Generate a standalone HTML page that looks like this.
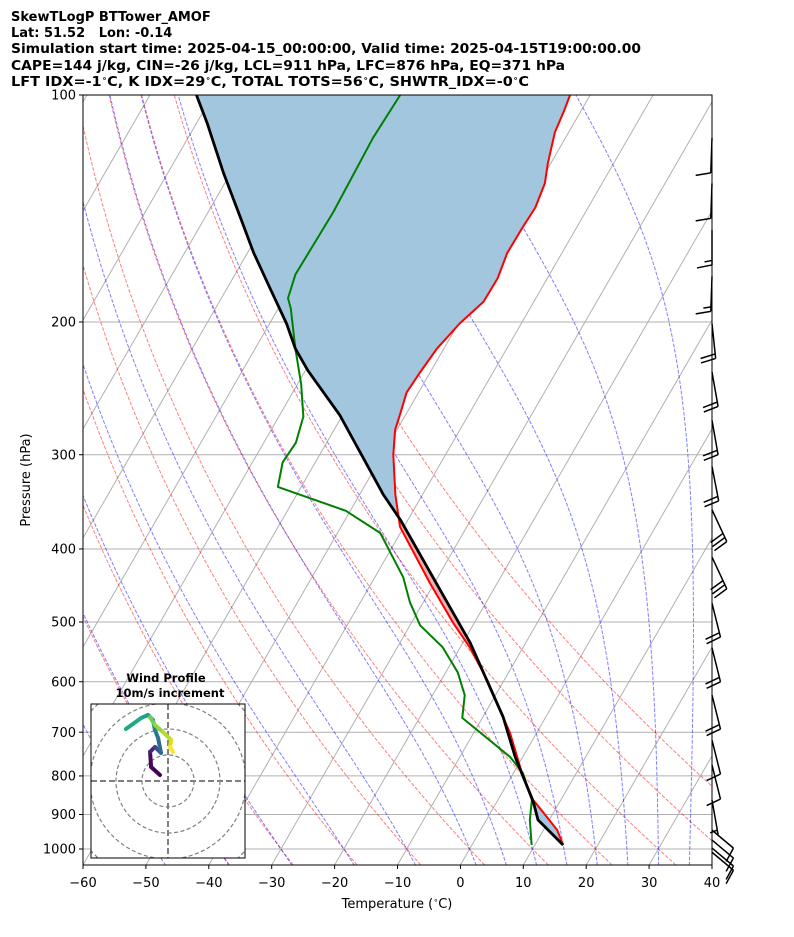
<!DOCTYPE html>
<html><head><meta charset="utf-8"><style>
html,body{margin:0;padding:0;background:#fff;}
svg{display:block;font-family:"DejaVu Sans","Liberation Sans",sans-serif;}
</style></head><body>
<svg id="chart" width="794" height="937" viewBox="0 0 794 937" xmlns="http://www.w3.org/2000/svg">
<defs><clipPath id="plotclip"><rect x="83" y="95" width="629" height="770"/></clipPath>
<clipPath id="hodoclip"><rect x="91" y="704" width="154" height="154"/></clipPath></defs>
<rect x="0" y="0" width="794" height="937" fill="#fff"/>
<g font-weight="bold" font-size="13" fill="#000">
<text x="11" y="21">SkewTLogP BTTower_AMOF</text>
<text x="11" y="37" xml:space="preserve">Lat: 51.52   Lon: -0.14</text>
<text x="11" y="53" textLength="630" lengthAdjust="spacingAndGlyphs">Simulation start time: 2025-04-15_00:00:00, Valid time: 2025-04-15T19:00:00.00</text>
<text x="11" y="70" textLength="554" lengthAdjust="spacingAndGlyphs">CAPE=144 j/kg, CIN=-26 j/kg, LCL=911 hPa, LFC=876 hPa, EQ=371 hPa</text>
<text x="11" y="86" textLength="518" lengthAdjust="spacingAndGlyphs">LFT IDX=-1<tspan font-size="8" dy="-5">∘</tspan><tspan dy="5">C, K IDX=29</tspan><tspan font-size="8" dy="-5">∘</tspan><tspan dy="5">C, TOTAL TOTS=56</tspan><tspan font-size="8" dy="-5">∘</tspan><tspan dy="5">C, SHWTR_IDX=-0</tspan><tspan font-size="8" dy="-5">∘</tspan><tspan dy="5">C</tspan></text>
</g>
<g id="plot" clip-path="url(#plotclip)"></g>
<rect x="83" y="95" width="629" height="770" fill="none" stroke="#000" stroke-width="1"/>
<g id="axes"></g>
<g id="barbs"></g>
<g id="hodo"></g>
<text x="397" y="908" text-anchor="middle" font-size="13">Temperature (<tspan font-size="8" dy="-5">∘</tspan><tspan dy="5">C)</tspan></text>
<text transform="translate(30,480) rotate(-90)" text-anchor="middle" font-size="13">Pressure (hPa)</text>
</svg>
<script>
// ---- data ----
const tempP = [988,944,874,861,793,702,668,597,540,501,444,374,339,300,278,264,248,233,217,201,188,175,162,150,141,131,123,112,105,100];
const tempT = [14.5,12.2,6.7,5.6,1.35,-4.2,-6.8,-12.7,-18.5,-23.4,-30.7,-40.6,-44.3,-48.3,-50.3,-51.0,-51.9,-51.6,-51.1,-49.8,-48.0,-47.9,-48.7,-48.6,-48.4,-49.1,-50.5,-52.2,-52.7,-53.2];
const dewP = [988,915,861,793,755,670,625,583,540,505,471,436,381,356,331,307,289,267,242,217,192,186,173,143,114,100];
const dewT = [9.5,6.9,5.4,1.5,-2.0,-13.2,-14.9,-18.1,-22.8,-28.4,-32.1,-35.5,-43.2,-50.7,-63.7,-65.2,-64.9,-66.1,-69.4,-73.6,-78.0,-79.4,-80.4,-80.1,-80.6,-80.2];
const parcelP = [988,915,866,755,668,533,453,366,339,266,232,217,201,181,162,145,127,109,100];
const parcelT = [14.5,8.2,5.8,-1.2,-6.8,-18.8,-28.5,-41.2,-46.2,-60.4,-69.6,-73.6,-77.3,-83.0,-89.0,-94.5,-101.1,-108.3,-112.6];
const barbP = [114,131,151,174,201,233,270,311,355,410,472,541,625,717,774,861,944,973,997,1010];
const barbDir = [-2,-2,0,-2,6,10,10,11,25,25,14,14,14,14,14,10,50,50,50,50];
const barbSpd = [10,10,15,15,20,20,20,20,30,30,20,20,20,10,10,5,10,10,10,10];
const hodoU = [-3.1,-6.5,-6.9,-5.0,-2.7,-3.8,-5.0,-5.8,-7.7,-10.4,-16.2];
const hodoV = [2.3,5.4,11.2,13.1,10.8,16.5,19.6,23.5,25.4,24.2,20.0];
const hodoU2 = [-6.9,-5.0,-1.9,1.2,0.8,1.9];
const hodoV2 = [24.6,21.5,18.8,15.8,13.1,11.2];
const xTicks = [-60,-50,-40,-30,-20,-10,0,10,20,30,40];
const yTicks = [100,200,300,400,500,600,700,800,900,1000];
const dryT0 = [-40,-30,-20,-10,0,10,20,30,40,50];
const moistT0 = [-50,-40,-30,-20,-10,0,5,10,15,20,25,30,35,40];

// ---- axes functions ----
const NS='http://www.w3.org/2000/svg';
const X0=83, PXC=6.29, YB=865, SK=0.577;
function yOf(p){return 95+754*Math.log10(p/100);}
function xOf(T,p){return X0+(T+60)*PXC+SK*(YB-yOf(p));}
function mk(tag,attrs,parent){const e=document.createElementNS(NS,tag);for(const k in attrs)e.setAttribute(k,attrs[k]);parent.appendChild(e);return e;}
function pathFrom(pts){return pts.map((q,i)=>(i?'L':'M')+q[0].toFixed(2)+' '+q[1].toFixed(2)).join('');}
const plot=document.getElementById('plot'), axes=document.getElementById('axes');

// isotherms
for(let T=-130;T<=40;T+=10){
  const l=mk('line',{x1:xOf(T,1050),y1:yOf(1050),x2:xOf(T,100),y2:yOf(100),stroke:'#b0b0b0','stroke-width':1},plot);
  
  
}
// pressure gridlines
yTicks.forEach(p=>{
  const l=mk('line',{x1:83,y1:yOf(p),x2:712,y2:yOf(p),stroke:'#b0b0b0','stroke-width':1},plot);
  
  
});
// dry adiabats
dryT0.forEach(t0=>{
  const pts=[];for(let p=1050;p>=100;p-=10){const T=(t0+273.15)*Math.pow(p/1000,0.2857)-273.15;pts.push([xOf(T,p),yOf(p)]);}
  const e=mk('path',{d:pathFrom(pts),fill:'none',stroke:'#ff0000','stroke-opacity':0.5,'stroke-width':1,'stroke-dasharray':'3.7 1.6'},plot);
  
  
});
// moist adiabats
function dTdp(p,Tk){const Tc=Tk-273.15;const es=6.112*Math.exp(17.67*Tc/(Tc+243.5));const rs=0.622*es/(p-es);
  const Rd=287.04,Cp=1005.7,Lv=2.501e6,eps=0.622;
  return (1/p)*(Rd*Tk+Lv*rs)/(Cp+Lv*Lv*rs*eps/(Rd*Tk*Tk));}
function moist(t0){
  const up=[],dn=[];let T=t0+273.15;const h=2;
  for(let p=1000;p>=100;p-=h){up.push([p,T]);const k1=dTdp(p,T);const k2=dTdp(p-h,T-h*k1);T=T-h*(k1+k2)/2;}
  T=t0+273.15;for(let p=1000;p<=1052;p+=h){dn.push([p,T]);const k1=dTdp(p,T);const k2=dTdp(p+h,T+h*k1);T=T+h*(k1+k2)/2;}
  return dn.reverse().concat(up);
}
moistT0.forEach(t0=>{
  const pts=moist(t0).map(q=>[xOf(q[1]-273.15,q[0]),yOf(q[0])]);
  const e=mk('path',{d:pathFrom(pts),fill:'none',stroke:'#0000ff','stroke-opacity':0.5,'stroke-width':1,'stroke-dasharray':'3.7 1.6'},plot);
  
  
});
// shading between parcel and temperature
function interp(P,V,p){for(let i=0;i<P.length-1;i++){if(p<=P[i]&&p>=P[i+1]){const a=Math.log(P[i]),b=Math.log(P[i+1]);const f=(Math.log(p)-a)/(b-a);return V[i]+f*(V[i+1]-V[i]);}}return null;}
(function(){
  const ps=[];for(let p=988;p>=100;p-=1)ps.push(p);
  const d=ps.map(p=>interp(parcelP,parcelT,p)-interp(tempP,tempT,p));
  let runs=[],cur=[ps[0]];
  for(let i=1;i<ps.length;i++){if(Math.sign(d[i])!==Math.sign(d[i-1])&&cur.length>1){runs.push(cur);cur=[ps[i-1]];}cur.push(ps[i]);}
  runs.push(cur);
  runs.forEach(r=>{
    const pm=r[Math.floor(r.length/2)];
    const pink=interp(parcelP,parcelT,pm)>interp(tempP,tempT,pm);
    const a=r.map(p=>[xOf(interp(parcelP,parcelT,p),p),yOf(p)]);
    const b=r.slice().reverse().map(p=>[xOf(interp(tempP,tempT,p),p),yOf(p)]);
    const e=mk('path',{d:pathFrom(a.concat(b))+'Z',fill:pink?'#efb0b0':'#a3c6df',stroke:'none'},plot);
    
    
  });
})();
// profiles
function profile(P,T,color,w,name){
  const pts=P.map((p,i)=>[xOf(T[i],p),yOf(p)]);
  const e=mk('path',{d:pathFrom(pts),fill:'none',stroke:color,'stroke-width':w,'stroke-linejoin':'round'},plot);
  
  
}
profile(tempP,tempT,'#ff0000',2,'temperature-line');
profile(dewP,dewT,'#008000',2,'dewpoint-line');
profile(parcelP,parcelT,'#000000',2.8,'parcel-line');

// axis ticks & labels
xTicks.forEach(t=>{
  const x=X0+(t+60)*PXC;
  const l=mk('line',{x1:x,y1:865,x2:x,y2:869,stroke:'#000','stroke-width':1},axes);
  
  
  const tx=mk('text',{x:x,y:887,'text-anchor':'middle','font-size':13},axes);
  tx.textContent=(t<0?'\u2212':'')+Math.abs(t);
  
  
});
yTicks.forEach(p=>{
  const y=yOf(p);
  const l=mk('line',{x1:79,y1:y,x2:83,y2:y,stroke:'#000','stroke-width':1},axes);
  
  
  const tx=mk('text',{x:76,y:y+4.6,'text-anchor':'end','font-size':13},axes);
  tx.textContent=String(p);
  
  
});

// wind barbs
const barbs=document.getElementById('barbs');
barbP.forEach((p,i)=>{
  const bx=712,by=yOf(p),a=barbDir[i]*Math.PI/180,L=p>900?28:35;
  const sx=Math.sin(a),sy=Math.cos(a);const px=-Math.cos(a),py=Math.sin(a);
  const tx=bx+L*sx,ty=by+L*sy;
  let d='M'+bx+' '+by.toFixed(2)+'L'+tx.toFixed(2)+' '+ty.toFixed(2);
  let s=barbSpd[i],pos=0;
  while(s>=10){const ox=tx-pos*sx,oy=ty-pos*sy;d+='M'+ox.toFixed(2)+' '+oy.toFixed(2)+'L'+(ox+px*15+sx*3).toFixed(2)+' '+(oy+py*15+sy*3).toFixed(2);s-=10;pos+=4.5;}
  if(s>=5){if(pos===0)pos=4.5;const ox=tx-pos*sx,oy=ty-pos*sy;d+='M'+ox.toFixed(2)+' '+oy.toFixed(2)+'L'+(ox+px*7.5+sx*1.5).toFixed(2)+' '+(oy+py*7.5+sy*1.5).toFixed(2);}
  const e=mk('path',{d:d,fill:'none',stroke:'#000','stroke-width':1.5},barbs);
  
  
});

// hodograph
const hodo=document.getElementById('hodo');
const HX=168,HY=781,HS=2.6;
(function(){
  let e=mk('rect',{x:91,y:704,width:154,height:154,fill:'#fff',stroke:'none'},hodo);
  
  
  const g=mk('g',{'clip-path':'url(#hodoclip)'},hodo);
  [10,20,30,40].forEach(r=>{
    const c=mk('circle',{cx:HX,cy:HY,r:r*HS,fill:'none',stroke:'#808080','stroke-width':1.2,'stroke-dasharray':'4 2.5'},g);
    
    
  });
  let l=mk('line',{x1:91,y1:HY,x2:245,y2:HY,stroke:'#808080','stroke-width':2,'stroke-dasharray':'6 3'},g);
  
  
  l=mk('line',{x1:HX,y1:704,x2:HX,y2:858,stroke:'#808080','stroke-width':2,'stroke-dasharray':'6 3'},g);
  
  
  const vir=['#440154','#46085c','#482878','#3e4989','#31688e','#2a788e','#26828e','#21918c','#1f9e89','#22a884','#35b779','#6ece58','#90d743','#b5de2b','#d8e219','#fde725'];
  const U=hodoU.concat(hodoU2),V=hodoV.concat(hodoV2);
  const n=U.length;
  for(let i=0;i<n-1;i++){
    if(i===hodoU.length-1)continue;
    const c=vir[Math.round(i/(n-2)*(vir.length-1))];
    const s=mk('line',{x1:HX+U[i]*HS,y1:HY-V[i]*HS,x2:HX+U[i+1]*HS,y2:HY-V[i+1]*HS,stroke:c,'stroke-width':4,'stroke-linecap':'round'},g);
    
    
  }
  e=mk('rect',{x:91,y:704,width:154,height:154,fill:'none',stroke:'#000','stroke-width':1},hodo);
  
  
  let t=mk('text',{x:166,y:682,'text-anchor':'middle','font-size':11.5,'font-weight':'bold'},hodo);
  t.textContent='Wind Profile';
  
  
  t=mk('text',{x:170,y:697,'text-anchor':'middle','font-size':11.5,'font-weight':'bold'},hodo);
  t.textContent='10m/s increment';
  
  
})();
</script>
</body></html>
